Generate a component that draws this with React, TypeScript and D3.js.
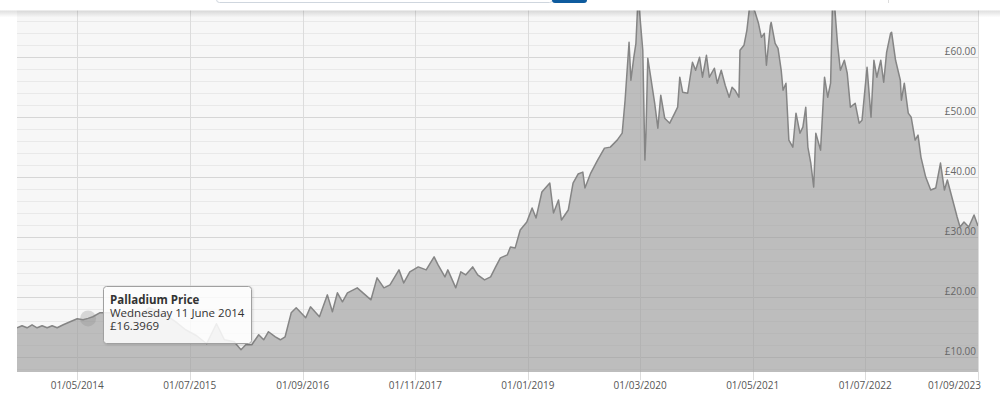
import React from 'react';
import * as d3 from 'd3';

const dates = [
  '2013-09-15','2013-10-04','2013-10-23','2013-11-11','2013-11-30','2013-12-19','2014-01-07','2014-01-26','2014-02-14','2014-03-09',
  '2014-04-04','2014-05-01','2014-05-23','2014-06-11','2014-06-29','2014-07-25','2014-09-01','2014-10-08','2014-11-15','2014-12-22',
  '2015-01-28','2015-03-06','2015-04-01','2015-05-09','2015-06-15','2015-07-27','2015-09-03','2015-10-10','2015-11-09','2015-12-16',
  '2016-01-11','2016-01-29','2016-02-21','2016-03-18','2016-04-06','2016-04-24','2016-05-20','2016-06-08','2016-06-26','2016-07-19',
  '2016-08-07','2016-09-12','2016-09-30','2016-11-03','2016-12-03','2016-12-22','2017-01-10','2017-01-29','2017-02-17','2017-03-26',
  '2017-04-21','2017-05-17','2017-06-09','2017-07-05','2017-07-28','2017-08-31','2017-09-18','2017-10-11','2017-11-12','2017-12-12',
  '2018-01-11','2018-01-26','2018-02-21','2018-03-04','2018-04-03','2018-04-22','2018-05-11','2018-06-06','2018-06-25','2018-07-21',
  '2018-08-13','2018-09-01','2018-09-19','2018-10-15','2018-10-27','2018-11-14','2018-12-03','2018-12-28','2019-01-17','2019-02-01',
  '2019-02-23','2019-03-25','2019-04-08','2019-04-27','2019-05-08','2019-06-03','2019-06-21','2019-07-10','2019-07-28','2019-08-05',
  '2019-08-27','2019-09-22','2019-10-18','2019-11-09','2019-12-05','2019-12-24','2020-01-04','2020-01-19','2020-01-26','2020-02-06',
  '2020-02-14','2020-02-21','2020-02-25','2020-03-11','2020-03-19','2020-03-23','2020-03-30','2020-04-10','2020-04-25','2020-05-07',
  '2020-05-18','2020-06-02','2020-06-21','2020-07-10','2020-07-21','2020-07-29','2020-08-09','2020-08-28','2020-09-15','2020-09-27',
  '2020-10-12','2020-10-23','2020-11-07','2020-11-18','2020-12-07','2020-12-18','2021-01-02','2021-01-17','2021-02-01','2021-02-12',
  '2021-02-23','2021-03-10','2021-03-14','2021-03-29','2021-04-09','2021-04-20','2021-05-08','2021-05-23','2021-06-03','2021-06-14',
  '2021-06-22','2021-07-07','2021-07-10','2021-07-25','2021-08-05','2021-08-17','2021-08-24','2021-09-04','2021-09-15','2021-09-30',
  '2021-10-12','2021-10-27','2021-11-07','2021-11-18','2021-11-26','2021-12-07','2021-12-18','2021-12-26','2022-01-13','2022-01-28',
  '2022-02-09','2022-02-20','2022-02-27','2022-03-07','2022-03-18','2022-03-29','2022-04-13','2022-04-24','2022-05-06','2022-05-24',
  '2022-06-08','2022-06-19','2022-07-08','2022-07-23','2022-08-03','2022-08-14','2022-08-29','2022-09-09','2022-09-20','2022-10-05',
  '2022-10-09','2022-10-24','2022-11-11','2022-11-15','2022-11-26','2022-12-11','2022-12-22','2023-01-06','2023-01-17','2023-01-28',
  '2023-02-15','2023-03-06','2023-03-25','2023-04-12','2023-04-27','2023-05-08','2023-05-26','2023-06-14','2023-06-25','2023-07-10',
  '2023-07-28','2023-08-17','2023-09-01'
];

const prices = [
  14.83,15.17,14.83,15.33,14.83,15.17,14.83,15.17,14.83,15.33,
  15.83,16.33,16.17,16.40,16.67,17.33,17.33,16.67,17.33,16.67,
  18.17,17.5,17.0,15.83,14.5,13.5,12.17,15.5,12.83,12.5,
  11.17,12.0,12.0,13.67,12.83,14.17,13.33,12.83,13.33,17.33,
  18.17,16.5,18.33,16.67,20.33,17.5,20.67,19.17,20.67,21.5,
  20.5,19.5,23.17,21.5,22.0,24.5,22.33,24.17,25.0,24.5,
  26.67,25.33,23.33,24.5,21.5,24.17,23.67,25.0,23.67,22.83,
  23.33,25.0,26.5,27.0,28.33,28.17,31.17,32.5,34.83,33.17,
  37.5,39.0,34.0,36.17,32.83,34.5,39.0,40.5,40.83,38.17,
  40.67,42.83,44.83,45.0,46.17,47.33,52.83,62.5,56.17,60.0,
  62.33,69.0,69.0,61.17,42.83,47.33,59.83,56.67,52.33,48.17,
  53.67,49.83,49.0,50.67,51.67,56.67,54.17,54.0,59.17,57.83,
  60.0,56.67,60.33,56.67,58.17,55.67,57.83,55.33,53.33,55.0,
  54.5,53.33,61.17,62.0,64.5,68.67,67.83,65.67,63.33,64.0,
  58.67,65.33,65.83,62.33,61.5,57.83,54.5,55.67,46.17,45.0,
  50.67,47.33,48.33,51.67,45.0,42.33,38.33,47.33,44.5,56.67,
  53.33,55.67,68.67,68.67,62.33,57.83,59.5,57.33,51.67,52.33,
  49.0,49.5,58.33,50.0,59.5,56.67,59.5,55.83,60.83,64.0,
  64.17,59.5,56.17,52.83,55.67,50.67,50.0,46.17,47.0,43.33,
  40.0,37.83,38.17,42.33,37.83,39.5,36.5,33.33,31.67,32.5,
  31.67,33.67,31.83
];

const xTickDates = ['2014-05-01','2015-07-01','2016-09-01','2017-11-01','2019-01-01','2020-03-01','2021-05-01','2022-07-01','2023-09-01'];
const xTickLabels = ['01/05/2014','01/07/2015','01/09/2016','01/11/2017','01/01/2019','01/03/2020','01/05/2021','01/07/2022','01/09/2023'];
const yTickValues = [10, 20, 30, 40, 50, 60];
const yMinorValues = [8, 12, 14, 16, 18, 22, 24, 26, 28, 32, 34, 36, 38, 42, 44, 46, 48, 52, 54, 56, 58, 62, 64, 66, 68];
const tooltipTitle = 'Palladium Price';
const tooltipDate = 'Wednesday 11 June 2014';
const tooltipValue = '£16.3969';
const tooltipPointDate = '2014-06-11';
const tooltipPointValue = 16.3969;

export default function App() {
  const W = 1000, H = 395;
  const left = 17, right = 978, plotBottom = 372;
  const parse = d3.utcParse('%Y-%m-%d');
  const x = d3.scaleUtc().domain([parse('2013-09-15') as Date, parse('2023-09-01') as Date]).range([left, right]);
  const y = d3.scaleLinear().domain([0, 70]).range([416.6, -2.6]);
  const data = dates.map((d, i) => ({ d: parse(d) as Date, v: prices[i] }));
  const line = d3.line<{ d: Date; v: number }>().x(p => x(p.d)).y(p => y(p.v));
  const area = d3.area<{ d: Date; v: number }>().x(p => x(p.d)).y0(plotBottom).y1(p => y(p.v));
  const font = "'Open Sans', 'Noto Sans', sans-serif";
  const hx = x(parse(tooltipPointDate) as Date);
  const hy = y(tooltipPointValue);
  const tipX = 103.5, tipY = 286.5, tipW = 148, tipH = 57;

  return (
    <svg width={W} height={H} style={{ position: 'fixed', left: 0, top: 0, background: '#fff' }} fontFamily={font}>
      <defs>
        <clipPath id="plotClip">
          <rect x={left} y={0} width={right - left} height={plotBottom} />
        </clipPath>
        <linearGradient id="hdrShadow" x1="0" y1="0" x2="0" y2="1">
          <stop offset="0" stopColor="#000" stopOpacity={0.13} />
          <stop offset="1" stopColor="#000" stopOpacity={0} />
        </linearGradient>
        <filter id="tipShadow" x="-10%" y="-10%" width="130%" height="140%">
          <feDropShadow dx="1" dy="1" stdDeviation="1.2" floodColor="#000" floodOpacity="0.15" />
        </filter>
      </defs>
      <rect x={left} y={0} width={right - left} height={plotBottom} fill="#f7f7f7" />
      {yMinorValues.map(v => (
        <line key={'mn' + v} x1={left} x2={right} y1={Math.round(y(v)) + 0.5} y2={Math.round(y(v)) + 0.5} stroke="#e9e9e9" strokeWidth={1} />
      ))}
      {yTickValues.map(v => (
        <line key={'mj' + v} x1={left} x2={right} y1={Math.round(y(v)) + 0.5} y2={Math.round(y(v)) + 0.5} stroke="#d6d6d6" strokeWidth={1} />
      ))}
      {xTickDates.map(t => {
        const xx = Math.round(x(parse(t) as Date)) + 0.5;
        return <line key={'vx' + t} x1={xx} x2={xx} y1={0} y2={plotBottom + 8} stroke="#dcdcdc" strokeWidth={1} />;
      })}
      <g clipPath="url(#plotClip)">
        <path d={area(data) || ''} fill="#9a9a9a" fillOpacity={0.62} />
        <path d={line(data) || ''} fill="none" stroke="#858585" strokeWidth={1.5} strokeLinejoin="round" />
      </g>
      {yTickValues.map(v => (
        <text key={'yl' + v} x={976} y={Math.round(y(v)) - 2} textAnchor="end" fontSize={10} fill="#666">
          {'£' + v.toFixed(2)}
        </text>
      ))}
      {xTickDates.map((t, i) => {
        const last = i === xTickDates.length - 1;
        return (
          <text key={'xl' + t} x={last ? 981 : x(parse(t) as Date)} y={389} textAnchor={last ? 'end' : 'middle'} fontSize={10} fill="#555">
            {xTickLabels[i]}
          </text>
        );
      })}
      <circle cx={hx} cy={hy} r={8} fill="#8a8a8a" fillOpacity={0.3} />
      <rect x={tipX} y={tipY} width={tipW} height={tipH} rx={3} ry={3} fill="#fff" fillOpacity={0.85} stroke="#a0a0a0" strokeWidth={1} filter="url(#tipShadow)" />
      <text x={110} y={304} fontSize={11.5} fontWeight="bold" fill="#333">{tooltipTitle}</text>
      <text x={110} y={317} fontSize={11.5} fill="#333">{tooltipDate}</text>
      <text x={110} y={330} fontSize={11.5} fill="#333">{tooltipValue}</text>
      <rect x={0} y={0} width={W} height={10.5} fill="#fff" />
      <rect x={0} y={10.5} width={W} height={7} fill="url(#hdrShadow)" />
      <rect x={216.5} y={-10} width={336} height={12.5} rx={3} fill="#fff" stroke="#cfd6de" strokeWidth={1} />
      <rect x={552} y={-10} width={35} height={13} rx={3} fill="#0e5b9e" />
      <line x1={888.5} x2={888.5} y1={0} y2={3} stroke="#ddd" strokeWidth={1} />
    </svg>
  );
}
